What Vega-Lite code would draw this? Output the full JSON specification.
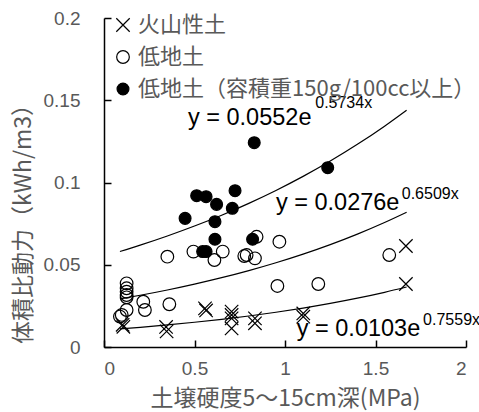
{
  "$schema": "https://vega.github.io/schema/vega-lite/v6.json",
  "width": 362,
  "height": 329,
  "autosize": {"type": "none"},
  "padding": {"left": 104, "top": 18, "right": 13, "bottom": 65},
  "config": {
    "view": {"stroke": null},
    "axis": {
      "grid": false,
      "domainColor": "#000000",
      "domainWidth": 1.5,
      "tickColor": "#000000",
      "tickWidth": 1.5,
      "tickSize": -7,
      "labelColor": "#595959",
      "labelFont": "Liberation Sans",
      "labelFontSize": 19,
      "titleColor": "#595959",
      "titleFont": "Noto Sans CJK JP",
      "titleFontWeight": "normal",
      "titleFontSize": 23
    },
    "legend": {
      "orient": "none",
      "legendX": 8,
      "legendY": -4,
      "padding": 0,
      "labelFont": "Noto Sans CJK JP",
      "labelFontSize": 22,
      "labelColor": "#595959",
      "labelOffset": 4,
      "labelLimit": 0,
      "rowPadding": 10,
      "symbolStrokeWidth": 1.2
    }
  },
  "datasets": {
    "points": [
      {"series": "火山性土", "x": 1.668, "y": 0.0614},
      {"series": "火山性土", "x": 1.668, "y": 0.0383},
      {"series": "火山性土", "x": 1.101, "y": 0.0204},
      {"series": "火山性土", "x": 1.101, "y": 0.0184},
      {"series": "火山性土", "x": 0.558, "y": 0.0235},
      {"series": "火山性土", "x": 0.564, "y": 0.0222},
      {"series": "火山性土", "x": 0.705, "y": 0.0215},
      {"series": "火山性土", "x": 0.705, "y": 0.0195},
      {"series": "火山性土", "x": 0.705, "y": 0.0174},
      {"series": "火山性土", "x": 0.705, "y": 0.0113},
      {"series": "火山性土", "x": 0.834, "y": 0.0174},
      {"series": "火山性土", "x": 0.834, "y": 0.0144},
      {"series": "火山性土", "x": 0.343, "y": 0.0122},
      {"series": "火山性土", "x": 0.346, "y": 0.0095},
      {"series": "火山性土", "x": 0.107, "y": 0.0123},
      {"series": "火山性土", "x": 0.103, "y": 0.0135},
      {"series": "低地土", "x": 0.843, "y": 0.067},
      {"series": "低地土", "x": 0.969, "y": 0.064},
      {"series": "低地土", "x": 0.35, "y": 0.0549},
      {"series": "低地土", "x": 0.494, "y": 0.058},
      {"series": "低地土", "x": 0.61, "y": 0.0529},
      {"series": "低地土", "x": 0.656, "y": 0.058},
      {"series": "低地土", "x": 0.775, "y": 0.0553},
      {"series": "低地土", "x": 0.788, "y": 0.0559},
      {"series": "低地土", "x": 0.834, "y": 0.0539},
      {"series": "低地土", "x": 1.576, "y": 0.0559},
      {"series": "低地土", "x": 0.958, "y": 0.0371},
      {"series": "低地土", "x": 1.184, "y": 0.0383},
      {"series": "低地土", "x": 0.125, "y": 0.0387},
      {"series": "低地土", "x": 0.125, "y": 0.0357},
      {"series": "低地土", "x": 0.125, "y": 0.0336},
      {"series": "低地土", "x": 0.125, "y": 0.0316},
      {"series": "低地土", "x": 0.125, "y": 0.0302},
      {"series": "低地土", "x": 0.217, "y": 0.0275},
      {"series": "低地土", "x": 0.226, "y": 0.0225},
      {"series": "低地土", "x": 0.361, "y": 0.026},
      {"series": "低地土", "x": 0.098, "y": 0.0195},
      {"series": "低地土", "x": 0.125, "y": 0.0225},
      {"series": "低地土", "x": 0.088, "y": 0.0185},
      {"series": "低地土（容積重150g/100cc以上）", "x": 0.83, "y": 0.1242},
      {"series": "低地土（容積重150g/100cc以上）", "x": 1.236, "y": 0.109},
      {"series": "低地土（容積重150g/100cc以上）", "x": 0.512, "y": 0.092},
      {"series": "低地土（容積重150g/100cc以上）", "x": 0.564, "y": 0.0914},
      {"series": "低地土（容積重150g/100cc以上）", "x": 0.724, "y": 0.095},
      {"series": "低地土（容積重150g/100cc以上）", "x": 0.622, "y": 0.0867},
      {"series": "低地土（容積重150g/100cc以上）", "x": 0.709, "y": 0.0843},
      {"series": "低地土（容積重150g/100cc以上）", "x": 0.448, "y": 0.0782},
      {"series": "低地土（容積重150g/100cc以上）", "x": 0.613, "y": 0.0762},
      {"series": "低地土（容積重150g/100cc以上）", "x": 0.613, "y": 0.0655},
      {"series": "低地土（容積重150g/100cc以上）", "x": 0.821, "y": 0.0655},
      {"series": "低地土（容積重150g/100cc以上）", "x": 0.545, "y": 0.058},
      {"series": "低地土（容積重150g/100cc以上）", "x": 0.564, "y": 0.058}
    ],
    "curves": [
      {"curve": "A", "x": 0.088, "y": 0.01101},
      {"curve": "A", "x": 0.2, "y": 0.01198},
      {"curve": "A", "x": 0.35, "y": 0.01342},
      {"curve": "A", "x": 0.5, "y": 0.01503},
      {"curve": "A", "x": 0.65, "y": 0.01684},
      {"curve": "A", "x": 0.8, "y": 0.01886},
      {"curve": "A", "x": 0.95, "y": 0.02112},
      {"curve": "A", "x": 1.1, "y": 0.02366},
      {"curve": "A", "x": 1.25, "y": 0.0265},
      {"curve": "A", "x": 1.4, "y": 0.02968},
      {"curve": "A", "x": 1.55, "y": 0.03324},
      {"curve": "A", "x": 1.672, "y": 0.03645},
      {"curve": "B", "x": 0.088, "y": 0.02923},
      {"curve": "B", "x": 0.2, "y": 0.03144},
      {"curve": "B", "x": 0.35, "y": 0.03466},
      {"curve": "B", "x": 0.5, "y": 0.03822},
      {"curve": "B", "x": 0.65, "y": 0.04214},
      {"curve": "B", "x": 0.8, "y": 0.04646},
      {"curve": "B", "x": 0.95, "y": 0.05122},
      {"curve": "B", "x": 1.1, "y": 0.05648},
      {"curve": "B", "x": 1.25, "y": 0.06227},
      {"curve": "B", "x": 1.4, "y": 0.06865},
      {"curve": "B", "x": 1.55, "y": 0.0757},
      {"curve": "B", "x": 1.672, "y": 0.08195},
      {"curve": "C", "x": 0.088, "y": 0.05806},
      {"curve": "C", "x": 0.2, "y": 0.06191},
      {"curve": "C", "x": 0.35, "y": 0.06747},
      {"curve": "C", "x": 0.5, "y": 0.07353},
      {"curve": "C", "x": 0.65, "y": 0.08013},
      {"curve": "C", "x": 0.8, "y": 0.08733},
      {"curve": "C", "x": 0.95, "y": 0.09517},
      {"curve": "C", "x": 1.1, "y": 0.10372},
      {"curve": "C", "x": 1.25, "y": 0.11304},
      {"curve": "C", "x": 1.4, "y": 0.1232},
      {"curve": "C", "x": 1.55, "y": 0.13426},
      {"curve": "C", "x": 1.672, "y": 0.14398}
    ],
    "equations": [
      {"x": 0.464, "y": 0.135, "label": "y = 0.0552e"},
      {"x": 0.95, "y": 0.0833, "label": "y = 0.0276e"},
      {"x": 1.065, "y": 0.0069, "label": "y = 0.0103e"}
    ],
    "exponents": [
      {"x": 1.167, "y": 0.1451, "label": "0.5734x"},
      {"x": 1.645, "y": 0.0898, "label": "0.6509x"},
      {"x": 1.763, "y": 0.0134, "label": "0.7559x"}
    ]
  },
  "layer": [
    {
      "data": {"name": "curves"},
      "mark": {"type": "line", "color": "#000000", "strokeWidth": 1.2, "interpolate": "monotone"},
      "encoding": {
        "x": {
          "field": "x", "type": "quantitative",
          "scale": {"domain": [0, 2], "nice": false},
          "axis": {
            "values": [0, 0.5, 1, 1.5, 2], "format": "~g",
            "labelPadding": 19,
            "title": "土壌硬度5～15cm深(MPa)",
            "titleY": 40, "titleBaseline": "top"
          }
        },
        "y": {
          "field": "y", "type": "quantitative",
          "scale": {"domain": [0, 0.2], "nice": false},
          "axis": {
            "values": [0, 0.05, 0.1, 0.15, 0.2], "format": "~g",
            "labelPadding": 31,
            "title": "体積比動力（kWh/m3）",
            "titleX": -69, "titleY": 200, "titleAngle": -90,
            "titleAlign": "center", "titleBaseline": "bottom"
          }
        },
        "detail": {"field": "curve"}
      }
    },
    {
      "data": {"name": "points"},
      "mark": {"type": "point", "strokeWidth": 1.2, "opacity": 1},
      "encoding": {
        "x": {"field": "x", "type": "quantitative"},
        "y": {"field": "y", "type": "quantitative"},
        "shape": {
          "field": "series", "type": "nominal", "title": null,
          "scale": {
            "domain": ["火山性土", "低地土", "低地土（容積重150g/100cc以上）"],
            "range": ["M-1,-1L1,1M-1,1L1,-1", "circle", "circle"]
          }
        },
        "fill": {
          "field": "series", "type": "nominal", "title": null,
          "scale": {
            "domain": ["火山性土", "低地土", "低地土（容積重150g/100cc以上）"],
            "range": ["transparent", "transparent", "#000000"]
          }
        },
        "stroke": {
          "field": "series", "type": "nominal", "title": null,
          "scale": {
            "domain": ["火山性土", "低地土", "低地土（容積重150g/100cc以上）"],
            "range": ["#000000", "#000000", "#000000"]
          }
        },
        "size": {
          "field": "series", "type": "nominal", "title": null,
          "scale": {
            "domain": ["火山性土", "低地土", "低地土（容積重150g/100cc以上）"],
            "range": [180, 140, 170]
          }
        }
      }
    },
    {
      "data": {"name": "equations"},
      "mark": {"type": "text", "align": "left", "baseline": "alphabetic", "font": "Liberation Sans", "fontSize": 23.5, "color": "#000000"},
      "encoding": {
        "x": {"field": "x", "type": "quantitative"},
        "y": {"field": "y", "type": "quantitative"},
        "text": {"field": "label"}
      }
    },
    {
      "data": {"name": "exponents"},
      "mark": {"type": "text", "align": "left", "baseline": "alphabetic", "font": "Liberation Sans", "fontSize": 16, "color": "#000000"},
      "encoding": {
        "x": {"field": "x", "type": "quantitative"},
        "y": {"field": "y", "type": "quantitative"},
        "text": {"field": "label"}
      }
    }
  ]
}
